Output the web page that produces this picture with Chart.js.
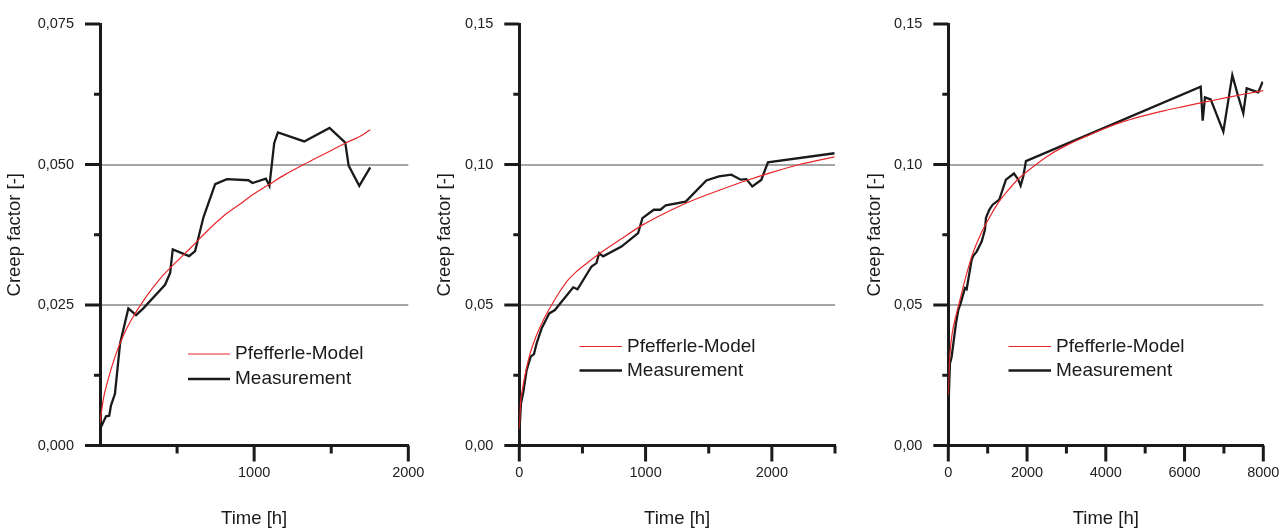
<!DOCTYPE html>
<html>
<head>
<meta charset="utf-8">
<script src="https://cdn.jsdelivr.net/npm/chart.js@4/dist/chart.umd.min.js"></script>
<style>
  body { margin: 0; background: #fff; }
  .panel { position: absolute; top: 0; height: 529px; }
</style>
</head>
<body>
<div class="panel" style="left:0;width:430px"><canvas id="c1"></canvas></div>
<div class="panel" style="left:430px;width:430px"><canvas id="c2"></canvas></div>
<div class="panel" style="left:860px;width:427px"><canvas id="c3"></canvas></div>
<script>
// panel 1 - measurement
const p1Time = [0, 39, 60, 71, 97, 130, 184, 234, 281, 422, 455, 472, 578, 617, 671, 747, 823, 963, 989, 1076, 1099, 1130, 1154, 1325, 1489, 1591, 1613, 1682, 1753];
const p1Meas = [0.0029, 0.0052, 0.0053, 0.0071, 0.0092, 0.0181, 0.0244, 0.0232, 0.0244, 0.0286, 0.0307, 0.0349, 0.0337, 0.0346, 0.0406, 0.0465, 0.0474, 0.0472, 0.0467, 0.0475, 0.0462, 0.0538, 0.0557, 0.0541, 0.0565, 0.0539, 0.0498, 0.0462, 0.0495];
// panel 1 - model
const p1ModelTime = [0, 20, 50, 100, 150, 200, 300, 400, 500, 600, 700, 800, 900, 1000, 1100, 1200, 1300, 1400, 1500, 1600, 1700, 1753];
const p1Model = [0.0040, 0.0080, 0.0115, 0.0160, 0.0195, 0.0222, 0.0265, 0.0300, 0.0328, 0.0355, 0.0383, 0.0408, 0.0428, 0.0448, 0.0465, 0.0482, 0.0497, 0.0511, 0.0525, 0.0539, 0.0552, 0.0562];

// panel 2 - measurement
const p2Time = [0, 13, 32, 58, 90, 116, 137, 177, 237, 282, 427, 461, 572, 611, 632, 664, 809, 941, 975, 1065, 1118, 1160, 1318, 1481, 1581, 1679, 1753, 1798, 1845, 1916, 1969, 2496];
const p2Meas = [0.0042, 0.0149, 0.0190, 0.0268, 0.0316, 0.0325, 0.0363, 0.0417, 0.0470, 0.0482, 0.0563, 0.0556, 0.0637, 0.0649, 0.0684, 0.0673, 0.0708, 0.0756, 0.0809, 0.0839, 0.0839, 0.0855, 0.0868, 0.0943, 0.0958, 0.0964, 0.0946, 0.0948, 0.0922, 0.0945, 0.1008, 0.1040];
// panel 2 - model
const p2ModelTime = [0, 10, 25, 50, 85, 130, 190, 256, 320, 387, 450, 519, 638, 796, 980, 1100, 1250, 1400, 1600, 1800, 2000, 2220, 2496];
const p2Model = [0.0060, 0.0150, 0.0200, 0.0260, 0.0327, 0.0385, 0.0446, 0.0500, 0.0547, 0.0589, 0.0618, 0.0643, 0.0684, 0.0732, 0.0786, 0.0815, 0.0848, 0.0877, 0.0911, 0.0943, 0.0972, 0.1000, 0.1027];

// panel 3 - measurement
const p3Time = [0, 42, 85, 195, 254, 313, 423, 466, 593, 635, 720, 847, 931, 957, 1041, 1126, 1295, 1464, 1668, 1778, 1837, 1905, 1972, 6410, 6461, 6519, 6664, 6985, 7213, 7365, 7492, 7578, 7873, 7985];
const p3Meas = [0.0125, 0.0292, 0.0316, 0.0435, 0.0482, 0.0506, 0.0560, 0.0556, 0.0661, 0.0675, 0.0690, 0.0726, 0.0768, 0.0810, 0.0839, 0.0857, 0.0875, 0.0946, 0.0968, 0.0946, 0.0925, 0.0958, 0.1012, 0.1277, 0.1156, 0.1239, 0.1232, 0.1117, 0.1318, 0.1241, 0.1182, 0.1271, 0.1257, 0.1295];
// panel 3 - model
const p3ModelTime = [0, 20, 50, 100, 200, 300, 400, 600, 800, 1000, 1250, 1500, 1750, 2000, 2500, 3000, 3500, 4000, 4500, 5000, 5500, 6000, 6500, 7000, 7500, 8000];
const p3Model = [0.0180, 0.0270, 0.0340, 0.0400, 0.0465, 0.0520, 0.0577, 0.0675, 0.0745, 0.0800, 0.0860, 0.0905, 0.0945, 0.0975, 0.1028, 0.1068, 0.1100, 0.1130, 0.1155, 0.1175, 0.1192, 0.1207, 0.1222, 0.1236, 0.1250, 0.1263];

const seriesLabels = ['Pfefferle-Model', 'Measurement'];
const FONT = "'Liberation Sans', Arial, sans-serif";

function pts(xs, ys) {
  return xs.map((x, i) => ({ x: x, y: ys[i] }));
}

function isMult(v, step) {
  const q = v / step;
  return Math.abs(q - Math.round(q)) < 1e-6;
}

// axis ticks (long on labelled values, short between) + legend inside plot
const decoPlugin = {
  id: 'deco',
  afterDraw(chart) {
    const o = chart.options.plugins.deco;
    const ctx = chart.ctx;
    const xs = chart.scales.x, ys = chart.scales.y;
    const a = chart.chartArea;
    ctx.save();
    ctx.strokeStyle = '#1a1a1a';
    ctx.lineWidth = 3;
    ys.ticks.forEach(t => {
      const y = ys.getPixelForValue(t.value);
      const len = isMult(t.value, o.yMajor) ? 15 : 6;
      ctx.beginPath();
      ctx.moveTo(a.left - len, y);
      ctx.lineTo(a.left, y);
      ctx.stroke();
    });
    xs.ticks.forEach(t => {
      if (t.value === 0 && o.noZeroTick) return;
      const x = xs.getPixelForValue(t.value);
      const len = isMult(t.value, o.xMajor) ? 16 : 8;
      ctx.beginPath();
      ctx.moveTo(x, a.bottom);
      ctx.lineTo(x, a.bottom + len);
      ctx.stroke();
    });
    // legend
    const lg = o.legend;
    ctx.font = '19px ' + FONT;
    ctx.textBaseline = 'middle';
    ctx.fillStyle = '#1a1a1a';
    chart.data.datasets.forEach((ds, i) => {
      const y = lg.y + i * lg.gap;
      ctx.strokeStyle = ds.borderColor;
      ctx.lineWidth = ds.borderWidth;
      ctx.beginPath();
      ctx.moveTo(lg.x0, y);
      ctx.lineTo(lg.x1, y);
      ctx.stroke();
      ctx.fillText(ds.label, lg.tx, y);
    });
    ctx.restore();
  }
};

function makePanel(id, cfg) {
  const W = cfg.width;
  new Chart(document.getElementById(id), {
    type: 'line',
    data: {
      datasets: [
        {
          label: seriesLabels[0],
          data: pts(cfg.modelT, cfg.modelV),
          borderColor: '#e8262a',
          borderWidth: 1.2,
          pointRadius: 0,
          cubicInterpolationMode: 'monotone',
          order: 0
        },
        {
          label: seriesLabels[1],
          data: pts(cfg.measT, cfg.measV),
          borderColor: '#1a1a1a',
          borderWidth: 2.3,
          pointRadius: 0,
          tension: 0,
          order: 1
        }
      ]
    },
    options: {
      responsive: true,
      maintainAspectRatio: false,
      animation: false,
      events: [],
      layout: { padding: { left: 0, top: 24, right: W - cfg.right, bottom: 0 } },
      plugins: {
        legend: { display: false },
        tooltip: { enabled: false },
        deco: {
          yMajor: cfg.yLabelStep,
          xMajor: cfg.xLabelStep,
          noZeroTick: cfg.noZeroTick,
          legend: cfg.legend
        }
      },
      scales: {
        x: {
          type: 'linear',
          min: 0,
          max: cfg.xMax,
          afterFit: s => {
            s.height = 529 - 445.5;
            s.paddingLeft = 0; s.paddingRight = 0;
          },
          border: { display: true, color: '#1a1a1a', width: 3 },
          grid: { display: true, drawTicks: false, color: 'rgba(0,0,0,0)' },
          ticks: {
            stepSize: cfg.xStep,
            autoSkip: false,
            maxRotation: 0,
            padding: 19,
            color: '#222',
            font: { family: FONT, size: 14.5 },
            callback: v => {
              if (v === 0 && cfg.noZeroTick) return '';
              return isMult(v, cfg.xLabelStep) ? String(v) : '';
            }
          },
          title: {
            display: true,
            text: 'Time [h]',
            color: '#1a1a1a',
            font: { family: FONT, size: 18.5, lineHeight: 1.1 },
            padding: { top: 0, bottom: 0 }
          }
        },
        y: {
          min: 0,
          max: cfg.yMax,
          afterFit: s => {
            s.width = cfg.left;
            s.paddingTop = 0; s.paddingBottom = 0;
          },
          border: { display: true, color: '#1a1a1a', width: 3 },
          grid: {
            drawTicks: false,
            lineWidth: 2,
            color: c => (c.tick && c.tick.value > 1e-9 && c.tick.value < cfg.yMax - 1e-9 && isMult(c.tick.value, cfg.yLabelStep)) ? '#a6a6a6' : 'rgba(0,0,0,0)'
          },
          ticks: {
            stepSize: cfg.yStep,
            autoSkip: false,
            padding: 26,
            color: '#222',
            font: { family: FONT, size: 14.5 },
            callback: v => isMult(v, cfg.yLabelStep) ? v.toFixed(cfg.dec).replace('.', ',') : ''
          },
          title: {
            display: true,
            text: 'Creep factor [-]',
            color: '#1a1a1a',
            font: { family: FONT, size: 18.5, lineHeight: 1.1 },
            padding: { top: 5, bottom: 0 }
          }
        }
      }
    },
    plugins: [decoPlugin]
  });
}

makePanel('c1', {
  width: 430, left: 100, right: 408.3,
  xMax: 2000, xStep: 500, xLabelStep: 1000, noZeroTick: true,
  yMax: 0.075, yStep: 0.0125, yLabelStep: 0.025, dec: 3,
  measT: p1Time, measV: p1Meas, modelT: p1ModelTime, modelV: p1Model,
  legend: { x0: 188, x1: 230, tx: 235, y: 354, gap: 25 }
});
makePanel('c2', {
  width: 430, left: 89.3, right: 405,
  xMax: 2500, xStep: 500, xLabelStep: 1000, noZeroTick: false,
  yMax: 0.15, yStep: 0.025, yLabelStep: 0.05, dec: 2,
  measT: p2Time, measV: p2Meas, modelT: p2ModelTime, modelV: p2Model,
  legend: { x0: 149.5, x1: 192, tx: 197, y: 346.5, gap: 24 }
});
makePanel('c3', {
  width: 427, left: 88.3, right: 403.3,
  xMax: 8000, xStep: 1000, xLabelStep: 2000, noZeroTick: false,
  yMax: 0.15, yStep: 0.025, yLabelStep: 0.05, dec: 2,
  measT: p3Time, measV: p3Meas, modelT: p3ModelTime, modelV: p3Model,
  legend: { x0: 148.5, x1: 191, tx: 196, y: 346.5, gap: 24 }
});
</script>
</body>
</html>
